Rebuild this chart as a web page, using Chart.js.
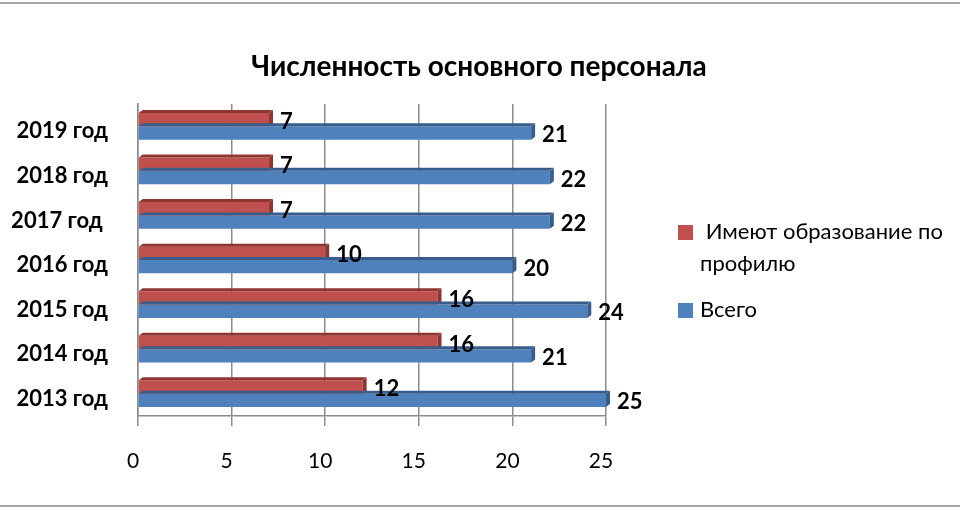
<!DOCTYPE html>
<html>
<head>
<meta charset="utf-8">
<script src="https://cdn.jsdelivr.net/npm/chart.js@4"></script>
<style>
  html, body { margin: 0; padding: 0; background: #fff; }
  #wrap { width: 960px; height: 510px; position: relative; }
</style>
</head>
<body>
<div id="wrap"><canvas id="myChart" width="960" height="510"></canvas></div>
<script>
// data
const years = ['2019 год', '2018 год', '2017 год ', '2016 год', '2015 год', '2014 год', '2013 год'];
const profil = [7, 7, 7, 10, 16, 16, 12];
const vsego = [21, 22, 22, 20, 24, 21, 25];
const xTicks = [0, 5, 10, 15, 20, 25];
const chartTitle = 'Численность основного персонала';
const seriesNames = ['Имеют образование по профилю', 'Всего'];

const FONT = 'Lato, Calibri, sans-serif';

// darker faces for the fake 3D look
const sideColors = ['#8f3532', '#385d8a'];

const bars3d = {
  id: 'bars3d',
  afterDatasetsDraw(chart) {
    const ctx = chart.ctx;
    const d = 4;
    chart.data.datasets.forEach((ds, i) => {
      chart.getDatasetMeta(i).data.forEach(bar => {
        const top = bar.y - bar.height / 2;
        const bottom = bar.y + bar.height / 2;
        ctx.save();
        ctx.fillStyle = sideColors[i];
        // top face
        ctx.beginPath();
        ctx.moveTo(bar.base, top);
        ctx.lineTo(bar.x, top);
        ctx.lineTo(bar.x + d, top - 3);
        ctx.lineTo(bar.base + d, top - 3);
        ctx.closePath();
        ctx.fill();
        // end face
        ctx.beginPath();
        ctx.moveTo(bar.x, top);
        ctx.lineTo(bar.x + d, top - 3);
        ctx.lineTo(bar.x + d, bottom - 3);
        ctx.lineTo(bar.x, bottom);
        ctx.closePath();
        ctx.fill();
        ctx.restore();
      });
    });
  }
};

const valueLabels = {
  id: 'valueLabels',
  afterDatasetsDraw(chart) {
    const ctx = chart.ctx;
    ctx.save();
    ctx.font = 'bold 22px ' + FONT;
    ctx.fillStyle = '#000';
    ctx.textBaseline = 'middle';
    ctx.textAlign = 'left';
    chart.data.datasets.forEach((ds, i) => {
      chart.getDatasetMeta(i).data.forEach((bar, j) => {
        ctx.fillText(String(ds.data[j]), bar.x + 11, bar.y + 2);
      });
    });
    ctx.restore();
  }
};

function wrapText(ctx, text, maxWidth) {
  const words = text.split(' ');
  const lines = [];
  let line = words[0];
  for (let k = 1; k < words.length; k++) {
    const test = line + ' ' + words[k];
    if (ctx.measureText(test).width > maxWidth) {
      lines.push(line);
      line = words[k];
    } else {
      line = test;
    }
  }
  lines.push(line);
  return lines;
}

const decor = {
  id: 'decor',
  afterDraw(chart) {
    const ctx = chart.ctx;
    ctx.save();
    // frame lines
    ctx.strokeStyle = '#a6a6a6';
    ctx.lineWidth = 2;
    ctx.beginPath();
    ctx.moveTo(0, 3); ctx.lineTo(960, 3);
    ctx.moveTo(0, 506); ctx.lineTo(960, 506);
    ctx.stroke();

    // title
    ctx.fillStyle = '#000';
    ctx.font = 'bold 28px ' + FONT;
    ctx.textAlign = 'center';
    ctx.textBaseline = 'middle';
    ctx.fillText(chartTitle, 479, 67);

    // legend
    ctx.font = '22px ' + FONT;
    ctx.textAlign = 'left';
    let y = 232;
    chart.data.datasets.forEach((ds, i) => {
      ctx.fillStyle = ds.backgroundColor;
      ctx.fillRect(678, y - 7, 15, 15);
      ctx.fillStyle = '#000';
      const lines = wrapText(ctx, ds.label, 290);
      lines.forEach((l, k) => {
        ctx.fillText(k === 0 && lines.length > 1 ? ' ' + l : l, 700, y + k * 32);
      });
      y += lines.length * 32 + 14;
    });
    ctx.restore();
  }
};

const ctx = document.getElementById('myChart').getContext('2d');
const chart = new Chart(ctx, {
  type: 'bar',
  data: {
    labels: years,
    datasets: [{
      label: seriesNames[0],
      data: profil,
      backgroundColor: '#c0504d',
      borderColor: '#c0504d',
      borderWidth: 0
    }, {
      label: seriesNames[1],
      data: vsego,
      backgroundColor: '#4f81bd',
      borderColor: '#4f81bd',
      borderWidth: 0
    }]
  },
  options: {
    indexAxis: 'y',
    responsive: false,
    animation: false,
    devicePixelRatio: 1,
    layout: { padding: { top: 104, right: 354, left: 0, bottom: 0 } },
    plugins: {
      legend: { display: false },
      title: { display: false },
      tooltip: { enabled: false }
    },
    datasets: {
      bar: { categoryPercentage: 0.6, barPercentage: 1.0 }
    },
    scales: {
      x: {
        min: 0,
        max: 25,
        afterBuildTicks(scale) {
          scale.ticks = xTicks.map(v => ({ value: v }));
        },
        afterFit(scale) { scale.height = 94; },
        grid: {
          color: '#8c8c8c',
          lineWidth: 1.5,
          tickLength: 10,
          tickColor: '#8c8c8c'
        },
        border: { display: true, color: '#8c8c8c', width: 1.5 },
        ticks: {
          padding: 23,
          labelOffset: -5,
          color: '#000',
          font: { family: FONT, size: 21 }
        }
      },
      y: {
        afterFit(scale) { scale.width = 138; },
        grid: { display: false, drawTicks: false },
        border: { display: true, color: '#8c8c8c', width: 1.5 },
        ticks: {
          padding: 30,
          labelOffset: 5,
          color: '#000',
          font: { family: FONT, size: 22, weight: 'bold' }
        }
      }
    }
  },
  plugins: [bars3d, valueLabels, decor]
});
</script>
</body>
</html>
